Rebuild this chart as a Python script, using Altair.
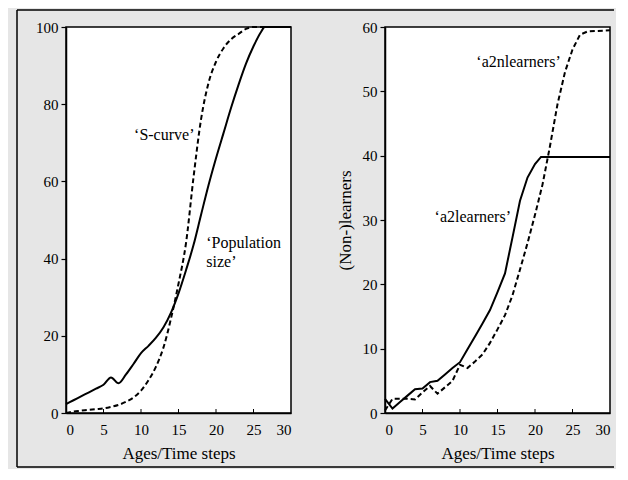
import altair as alt
import pandas as pd

# ---------------- data ----------------
# Left panel
age_pop = [0, 1, 2, 3, 4, 5, 6, 7, 8, 9, 10, 11, 12, 13, 14, 15, 16, 17, 18, 19, 20,
           21, 22, 23, 24, 25, 26, 26.5, 30]
population_size = [2.3, 3.3, 4.3, 5.3, 6.3, 7.3, 9.2, 7.7, 10, 12.7, 15.5, 17.4, 19.5,
                   22.2, 26.0, 31.0, 37.0, 43.5, 51.3, 59.0, 66.0, 72.5, 79.0, 85.0,
                   90.5, 95.0, 98.7, 100, 100]
age_s = [0, 1, 2, 3, 4, 5, 6, 7, 8, 9, 10, 11, 12, 13, 14, 15, 16, 17, 18, 19, 20,
         21, 22, 23, 24, 25, 30]
s_curve = [0, 0.4, 0.6, 0.8, 1, 1.2, 1.6, 2.1, 2.9, 4, 5.8, 8.5, 12, 17, 24.5, 33.5,
           44, 61, 76, 85.5, 91, 94.5, 96.8, 98.2, 99.5, 100, 100]

# Right panel
age_l = [0, 1, 2, 3, 4, 5, 6, 7, 8, 9, 10, 11, 12, 13, 14, 15, 16, 17, 18, 19, 20,
         20.8, 30]
a2learners = [2.2, 0.7, 1.7, 2.7, 3.7, 3.8, 4.8, 5.0, 6, 7, 7.9, 9.9, 11.9, 13.9, 16,
              18.8, 21.7, 27.3, 33, 36.6, 38.7, 39.8, 39.8]
age_n = [0, 1, 2, 3, 4, 5, 6, 7, 8, 9, 10, 11, 12, 13, 14, 15, 16, 17, 18, 19, 20,
         21, 22, 23, 24, 25, 26, 27, 30]
a2nlearners = [0.4, 2.2, 2.2, 2.2, 2.1, 3.2, 4.2, 3.0, 4, 5, 7.5, 7.0, 8, 9.1, 10.9,
               13, 15.2, 18.3, 22.3, 26.4, 30.8, 35.5, 41.5, 48, 53, 56.5, 58.8, 59.3,
               59.5]

x_ticks = [0, 5, 10, 15, 20, 25, 30]
left_y_ticks = [0, 20, 40, 60, 80, 100]
right_y_ticks = [0, 10, 20, 30, 40, 50, 60]

x_title = "Ages/Time steps"
right_y_title = "(Non-)learners"

# annotations: text, x, y
left_labels = ["\u2018S-curve\u2019", "\u2018Population\nsize\u2019"]
left_label_x = [13.1, 18.7]
left_label_y = [72.0, 44.0]
right_labels = ["\u2018a2nlearners\u2019", "\u2018a2learners\u2019"]
right_label_x = [17.8, 11.7]
right_label_y = [54.6, 30.4]

# ---------------- styling ----------------
FONT = "Liberation Serif, Times New Roman, serif"
W, H = 225, 386

def x_enc():
    return alt.X("x:Q", scale=alt.Scale(domain=[0, 30], nice=False, zero=False),
                 axis=alt.Axis(values=x_ticks, title=x_title, ticks=False, tickSize=0,
                               labelPadding=9, titlePadding=8, format="d",
                               labelOverlap=False))

def frame_rules():
    d = pd.DataFrame({"k": [0]})
    base = alt.Chart(d).mark_rule(color="black", strokeWidth=1.5)
    left = base.encode(x=alt.value(-49), y=alt.value(-17), y2=alt.value(440))
    top = base.encode(y=alt.value(-17), x=alt.value(-49), x2=alt.value(548))
    bottom = base.encode(y=alt.value(440), x=alt.value(-49), x2=alt.value(548))
    return [left, top, bottom]

def inner_ticks():
    d = pd.DataFrame({"x": x_ticks[1:-1]})
    return alt.Chart(d).mark_rule(color="black", strokeWidth=1).encode(
        x=x_enc(), y=alt.value(H), y2=alt.value(H - 4))

# ---------------- left panel ----------------
ly = alt.Y("y:Q", scale=alt.Scale(domain=[0, 100], nice=False),
           axis=alt.Axis(values=left_y_ticks, title=None, tickSize=5, labelPadding=3,
                         labelOverlap=False))

pop_df = pd.DataFrame({"x": age_pop, "y": population_size})
s_df = pd.DataFrame({"x": age_s, "y": s_curve})

pop_line = alt.Chart(pop_df).mark_line(color="black", strokeWidth=2,
                                       interpolate="monotone").encode(x=x_enc(), y=ly)
s_line = alt.Chart(s_df).mark_line(color="black", strokeWidth=2, strokeDash=[5, 3],
                                   interpolate="monotone").encode(x=x_enc(), y=ly)

lt0 = alt.Chart(pd.DataFrame({"x": left_label_x[:1], "y": left_label_y[:1],
                              "t": left_labels[:1]})).mark_text(
    font=FONT, fontSize=16, align="center", baseline="middle", color="black"
).encode(x=x_enc(), y=ly, text="t:N")
lt1 = alt.Chart(pd.DataFrame({"x": left_label_x[1:], "y": left_label_y[1:],
                              "t": left_labels[1:]})).mark_text(
    font=FONT, fontSize=16, align="left", baseline="middle", color="black",
    lineBreak="\n", lineHeight=19
).encode(x=x_enc(), y=ly, text="t:N")

left = alt.layer(pop_line, s_line, lt0, lt1, inner_ticks(), *frame_rules()).properties(
    width=W, height=H)

# ---------------- right panel ----------------
ry = alt.Y("y:Q", scale=alt.Scale(domain=[0, 60], nice=False),
           axis=alt.Axis(values=right_y_ticks, title=right_y_title, tickSize=5,
                         labelPadding=3, titlePadding=8, labelOverlap=False))

l_df = pd.DataFrame({"x": age_l, "y": a2learners})
n_df = pd.DataFrame({"x": age_n, "y": a2nlearners})

l_line = alt.Chart(l_df).mark_line(color="black", strokeWidth=2).encode(x=x_enc(), y=ry)
n_line = alt.Chart(n_df).mark_line(color="black", strokeWidth=2,
                                   strokeDash=[5, 3]).encode(x=x_enc(), y=ry)
rt = alt.Chart(pd.DataFrame({"x": right_label_x, "y": right_label_y,
                             "t": right_labels})).mark_text(
    font=FONT, fontSize=16, align="center", baseline="middle", color="black"
).encode(x=x_enc(), y=ry, text="t:N")

right = alt.layer(l_line, n_line, rt, inner_ticks()).properties(width=W, height=H)

chart = alt.hconcat(left, right, spacing=94, bounds="flush").properties(
    padding={"left": 7, "top": 0, "right": 0, "bottom": 0}, background="#e6e6e6"
).configure_view(
    fill="white", stroke="black", strokeWidth=1.5
).configure_axis(
    labelFont=FONT, titleFont=FONT, labelFontSize=15, titleFontSize=17,
    labelColor="black", titleColor="black", titleFontWeight="normal",
    domainColor="black", domainWidth=1.5, tickColor="black", tickWidth=1.2,
    grid=False
).configure_text(font=FONT)

chart.save("out.html", embed_options={"renderer": "svg", "actions": False})
